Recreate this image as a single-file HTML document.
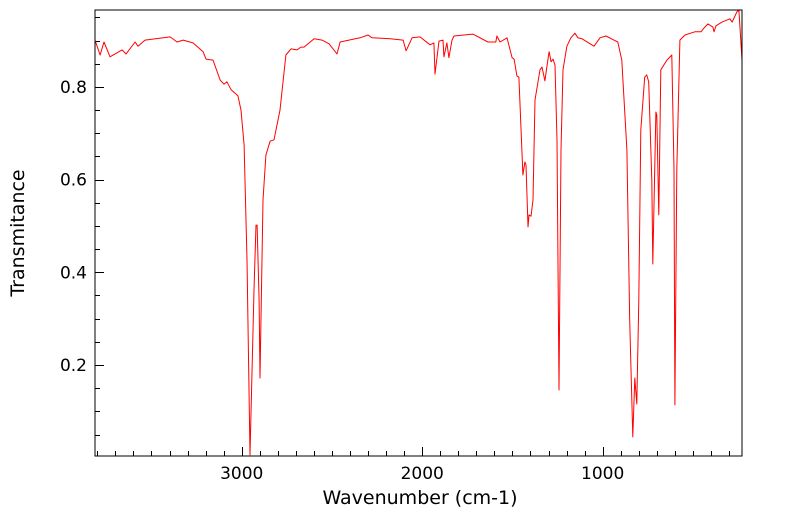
<!DOCTYPE html>
<html><head><meta charset="utf-8"><style>
html,body{margin:0;padding:0;background:#fff;}
svg{display:block;font-family:"DejaVu Sans","Liberation Sans",sans-serif;}
</style></head><body>
<svg id="chart" width="799" height="516" viewBox="0 0 799 516" xmlns="http://www.w3.org/2000/svg">
<rect x="0" y="0" width="799" height="516" fill="#fff"/>
<g id="ticks"></g>
<path id="series" fill="none" stroke="#ff0000" stroke-width="1" stroke-linejoin="round"/>
<rect x="95" y="10" width="647" height="446" fill="none" stroke="#000" stroke-width="1"/>
<text x="420" y="504" font-size="19" text-anchor="middle">Wavenumber (cm-1)</text>
<text x="24" y="233" font-size="19" text-anchor="middle" transform="rotate(-90 24 233)">Transmitance</text>
</svg>
<script>
const wavenumbers=[3813,3785,3763,3730,3663,3641,3591,3575,3536,3397,3358,3325,3270,3214,3198,3159,3120,3098,3082,3059,3021,3004,2987,2971,2954,2932,2921,2915,2904,2899,2882,2866,2843,2821,2788,2755,2727,2694,2672,2655,2599,2555,2516,2472,2455,2344,2300,2278,2178,2106,2089,2056,2012,1957,1935,1929,1907,1885,1880,1863,1852,1835,1824,1719,1636,1592,1586,1569,1530,1502,1491,1475,1464,1442,1431,1425,1414,1408,1397,1386,1375,1364,1347,1336,1320,1308,1297,1286,1275,1264,1253,1242,1231,1220,1198,1176,1154,1137,1115,1048,1015,982,938,916,894,866,850,833,822,811,800,789,767,756,745,728,722,705,700,689,678,644,617,605,600,589,572,544,489,455,439,417,389,383,372,339,295,283,256,245,228];
const transmittance=[.901,.869,.897,.865,.880,.871,.897,.888,.901,.908,.897,.901,.895,.876,.860,.858,.815,.806,.811,.794,.781,.750,.675,.427,.006,.362,.502,.502,.340,.172,.556,.653,.683,.686,.750,.869,.882,.880,.886,.886,.904,.901,.893,.871,.897,.906,.912,.906,.904,.901,.878,.906,.908,.891,.895,.828,.899,.901,.865,.895,.863,.901,.910,.914,.897,.897,.910,.897,.906,.863,.860,.824,.821,.610,.638,.632,.498,.524,.521,.556,.772,.798,.837,.843,.813,.847,.876,.854,.860,.847,.686,.146,.664,.837,.888,.906,.916,.906,.904,.888,.906,.910,.901,.897,.858,.664,.297,.045,.172,.116,.340,.707,.821,.826,.811,.600,.418,.746,.739,.524,.837,.858,.869,.621,.114,.621,.901,.912,.919,.919,.927,.936,.929,.919,.932,.940,.947,.940,.962,.966,.858];
const xMajorTicks=[3000,2000,1000];
const yMajorTicks=[0.2,0.4,0.6,0.8];
const xTickLabels=["3000","2000","1000"];
const yTickLabels=["0.2","0.4","0.6","0.8"];
const X0=95,X1=742,Y0=10,Y1=456;
const xMax=3813,xMin=228,yMin=0.0037,yMax=0.966;
function sx(v){return X0+(xMax-v)/(xMax-xMin)*(X1-X0);}
function sy(v){return Y1-(v-yMin)/(yMax-yMin)*(Y1-Y0);}
const NS="http://www.w3.org/2000/svg";
const g=document.getElementById('ticks');
function line(x1,y1,x2,y2,name){const l=document.createElementNS(NS,'line');
l.setAttribute('x1',x1);l.setAttribute('y1',y1);l.setAttribute('x2',x2);l.setAttribute('y2',y2);
l.setAttribute('stroke','#000');l.setAttribute('stroke-width','1');


g.appendChild(l);}
function text(x,y,s,anchor,name){const t=document.createElementNS(NS,'text');
t.setAttribute('x',x);t.setAttribute('y',y);t.setAttribute('font-size','17');t.setAttribute('text-anchor',anchor);t.textContent=s;


g.appendChild(t);}
for(let w=300;w<=3800;w+=100){const x=Math.round(sx(w))+0.5;const major=w%1000===0;line(x,Y1,x,Y1-(major?9:5),major?'x-major-tick':'x-minor-tick');}
for(let v=0.05;v<0.96;v+=0.05){const y=Math.round(sy(v))+0.5;const major=Math.abs(v*10-Math.round(v*10))<1e-6&&Math.round(v*10)%2===0;line(X0,y,X0+(major?9:5),y,major?'y-major-tick':'y-minor-tick');}
xMajorTicks.forEach((w,i)=>text(sx(w),479,xTickLabels[i],'middle','x-tick-label'));
yMajorTicks.forEach((v,i)=>text(87,sy(v)+6,yTickLabels[i],'end','y-tick-label'));
let d='';wavenumbers.forEach((w,i)=>{d+=(i?'L':'M')+sx(w).toFixed(1)+','+sy(transmittance[i]).toFixed(1);});
document.getElementById('series').setAttribute('d',d);
</script>
</body></html>
